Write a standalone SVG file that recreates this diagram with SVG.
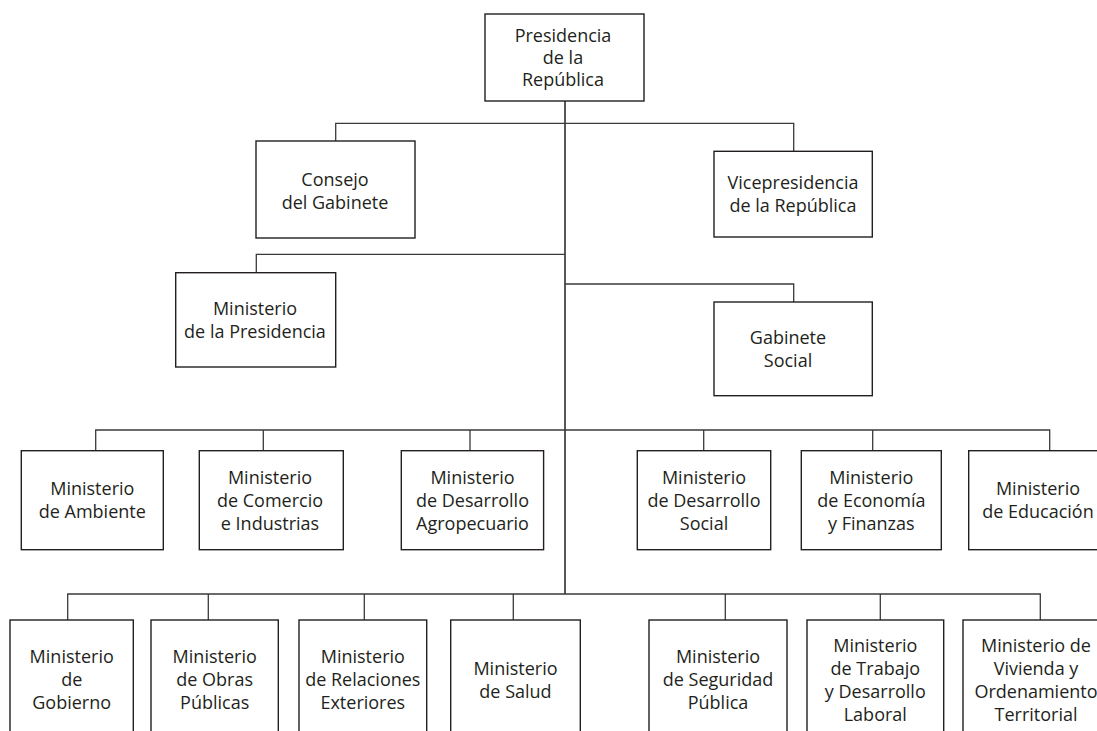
<svg xmlns="http://www.w3.org/2000/svg" width="1097" height="731" viewBox="0 0 1097 731">
<style>
.box{fill:#fff;stroke:#231f20;stroke-width:1.4}
.c{fill:none;stroke:#3a3a3a;stroke-width:1.3}
.trunk{fill:none;stroke:#3a3a3a;stroke-width:1.7}
text{font-family:"Open Sans","Liberation Sans",sans-serif;font-size:18px;fill:#231f20;text-anchor:middle}
</style>
<rect width="1097" height="731" fill="#fff"/>
<g id="connectors">
<path class="trunk" d="M565,101 V594"/>
<path class="c" d="M335.7,141 V123.3 H793.7 V151.3"/>
<path class="c" d="M256.3,272.7 V254.3 H565"/>
<path class="c" d="M565,284 H793.7 V302"/>
<path class="c" d="M95.7,450.7 V430 H1049.7 V450.7"/>
<path class="c" d="M263.3,430 V450.7 M470,430 V450.7 M703.7,430 V450.7 M872.7,430 V450.7"/>
<path class="c" d="M67.7,620 V594 H1040.3 V620"/>
<path class="c" d="M208.3,594 V620 M364.3,594 V620 M513.3,594 V620 M725.3,594 V620 M880.3,594 V620"/>
</g>
<g id="presidencia">
<rect class="box" x="485" y="14" width="159" height="87"/>
<text><tspan x="563" y="42">Presidencia</tspan><tspan x="563" y="64">de la</tspan><tspan x="563" y="86">República</tspan></text>
</g>
<g id="consejo">
<rect class="box" x="256" y="141" width="159" height="97"/>
<text><tspan x="335" y="185.5">Consejo</tspan><tspan x="335" y="208.5">del Gabinete</tspan></text>
</g>
<g id="vicepresidencia">
<rect class="box" x="714" y="151.3" width="158.3" height="85.7"/>
<text><tspan x="793" y="189.1">Vicepresidencia</tspan><tspan x="793" y="212.1">de la República</tspan></text>
</g>
<g id="min-presidencia">
<rect class="box" x="175.7" y="272.7" width="160" height="94.3"/>
<text><tspan x="255" y="314.8">Ministerio</tspan><tspan x="255" y="337.8">de la Presidencia</tspan></text>
</g>
<g id="gabinete-social">
<rect class="box" x="714" y="302" width="158.3" height="93.7"/>
<text><tspan x="788" y="343.8">Gabinete</tspan><tspan x="788" y="366.8">Social</tspan></text>
</g>
<g id="ambiente">
<rect class="box" x="21.3" y="450.7" width="142" height="99"/>
<text><tspan x="92.3" y="495.1">Ministerio</tspan><tspan x="92.3" y="518.1">de Ambiente</tspan></text>
</g>
<g id="comercio">
<rect class="box" x="199.3" y="450.7" width="144" height="99"/>
<text><tspan x="270" y="483.6">Ministerio</tspan><tspan x="270" y="506.6">de Comercio</tspan><tspan x="270" y="529.6">e Industrias</tspan></text>
</g>
<g id="agropecuario">
<rect class="box" x="401.3" y="450.7" width="142.3" height="99"/>
<text><tspan x="472.5" y="483.6">Ministerio</tspan><tspan x="472.5" y="506.6">de Desarrollo</tspan><tspan x="472.5" y="529.6">Agropecuario</tspan></text>
</g>
<g id="desarrollo-social">
<rect class="box" x="637.3" y="450.7" width="133.4" height="99"/>
<text><tspan x="704" y="483.6">Ministerio</tspan><tspan x="704" y="506.6">de Desarrollo</tspan><tspan x="704" y="529.6">Social</tspan></text>
</g>
<g id="economia">
<rect class="box" x="801.3" y="450.7" width="140" height="99"/>
<text><tspan x="871.3" y="483.6">Ministerio</tspan><tspan x="871.3" y="506.6">de Economía</tspan><tspan x="871.3" y="529.6">y Finanzas</tspan></text>
</g>
<g id="educacion">
<rect class="box" x="968.7" y="450.7" width="140" height="99"/>
<text><tspan x="1038" y="495.1">Ministerio</tspan><tspan x="1038" y="518.1">de Educación</tspan></text>
</g>
<g id="gobierno">
<rect class="box" x="10" y="620" width="123.3" height="125"/>
<text><tspan x="71.7" y="663.4">Ministerio</tspan><tspan x="71.7" y="686.4">de</tspan><tspan x="71.7" y="709.4">Gobierno</tspan></text>
</g>
<g id="obras">
<rect class="box" x="151" y="620" width="127.3" height="125"/>
<text><tspan x="214.7" y="663.4">Ministerio</tspan><tspan x="214.7" y="686.4">de Obras</tspan><tspan x="214.7" y="709.4">Públicas</tspan></text>
</g>
<g id="relaciones">
<rect class="box" x="299" y="620" width="127.7" height="125"/>
<text><tspan x="362.8" y="663.4">Ministerio</tspan><tspan x="362.8" y="686.4">de Relaciones</tspan><tspan x="362.8" y="709.4">Exteriores</tspan></text>
</g>
<g id="salud">
<rect class="box" x="450.7" y="620" width="129.6" height="125"/>
<text><tspan x="515.5" y="674.9">Ministerio</tspan><tspan x="515.5" y="697.9">de Salud</tspan></text>
</g>
<g id="seguridad">
<rect class="box" x="649" y="620" width="138" height="125"/>
<text><tspan x="718" y="663.4">Ministerio</tspan><tspan x="718" y="686.4">de Seguridad</tspan><tspan x="718" y="709.4">Pública</tspan></text>
</g>
<g id="trabajo">
<rect class="box" x="807" y="620" width="136.7" height="125"/>
<text><tspan x="875.3" y="651.9">Ministerio</tspan><tspan x="875.3" y="674.9">de Trabajo</tspan><tspan x="875.3" y="697.9">y Desarrollo</tspan><tspan x="875.3" y="720.9">Laboral</tspan></text>
</g>
<g id="vivienda">
<rect class="box" x="963" y="620" width="146" height="125"/>
<text><tspan x="1036" y="651.9">Ministerio de</tspan><tspan x="1036" y="674.9">Vivienda y</tspan><tspan x="1036" y="697.9">Ordenamiento</tspan><tspan x="1036" y="720.9">Territorial</tspan></text>
</g>
</svg>
